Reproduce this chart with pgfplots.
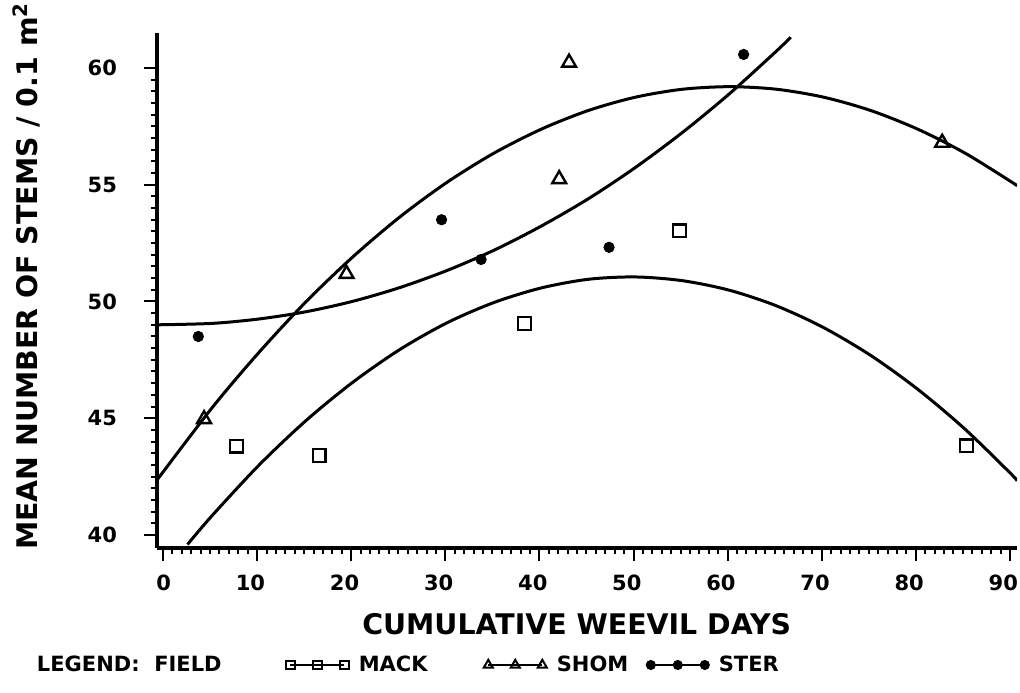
\documentclass[border=0pt]{standalone}
\usepackage{fontspec}
\setmainfont{DejaVu Sans}
\usepackage{pgfplots}
\pgfplotsset{compat=1.18}
\begin{document}
\begin{tikzpicture}
\begin{axis}[name=ax,
 scale only axis, width=430pt, height=257.5pt,
 xmin=-0.64, xmax=90.75, ymin=39.44, ymax=61.5,
 axis x line*=bottom, axis y line*=left,
 axis line style={line width=1.8pt},
 tick align=outside,
 xtick={0,10,...,90}, ytick={40,45,...,60},
 minor x tick num=9, minor y tick num=9,
 major tick length=6.5pt, minor tick length=3pt,
 every tick/.style={black, line width=1pt},
 /pgf/number format/assume math mode=true,
 ticklabel style={font=\bfseries\fontsize{10.5}{12}\selectfont},
 yticklabel style={xshift=-10pt},
 xticklabel style={anchor=north east, xshift=7.5pt, yshift=-3.5pt},
 xlabel={CUMULATIVE WEEVIL DAYS},
 xlabel style={at={(axis description cs:0.488,-0.1476)}, anchor=center, font=\bfseries\fontsize{14.2}{16}\selectfont},
 ylabel={MEAN NUMBER OF STEMS / 0.1 m\textsuperscript{2}},
 ylabel style={at={(axis description cs:-0.152,0.528)}, anchor=center, font=\bfseries\fontsize{14.2}{16}\selectfont},
 legend image code/.code={\draw[mark repeat=1,#1] plot coordinates {(0pt,0pt) (13.5pt,0pt) (27pt,0pt)};},
 legend style={draw=none, fill=none, at={(axis description cs:0,0)}, anchor=west,
   xshift=-65.2pt, yshift=-58.5pt,
   legend columns=4, font=\bfseries\fontsize{10.5}{12}\selectfont,
   /tikz/every even column/.append style={column sep=0pt}},
 legend cell align=left,
]
\addlegendimage{empty legend}
\addlegendentry{\makebox[122.5pt][l]{LEGEND:\ \ FIELD}}
\addlegendimage{black, line width=1pt, mark=square, mark size=2.2pt}
\addlegendentry{\makebox[63.5pt][l]{\hspace*{3pt}MACK}}
\addlegendimage{black, line width=1pt, mark=triangle, mark size=2.6pt}
\addlegendentry{\makebox[46pt][l]{\hspace*{3pt}SHOM}}
\addlegendimage{black, line width=1pt, mark=*, mark size=2pt}
\addlegendentry{\hspace*{3pt}STER}

% MACK data
\addplot[forget plot, only marks, mark=square, mark size=3.2pt, line width=1.2pt] coordinates {
 (7.8,43.8) (16.6,43.4) (38.4,49.05) (54.9,53.03) (85.4,43.82)};
% SHOM data
\addplot[forget plot, only marks, mark=triangle, mark size=4pt, line width=1.2pt] coordinates {
 (4.36,44.96) (19.5,51.18) (42.1,55.24) (43.15,60.23) (82.8,56.8)};
% STER data
\addplot[forget plot, only marks, mark=*, mark size=2.6pt] coordinates {
 (3.75,48.5) (29.6,53.5) (33.8,51.8) (47.4,52.32) (61.7,60.58)};

% fitted curves
\addplot[forget plot, smooth, line width=1.5pt] coordinates {
(-0.64,42.35) (5.2,45.44) (10.2,47.82) (15.2,49.99) (20.2,51.92) (25.2,53.63) (30.2,55.11) (35.2,56.36) (40.2,57.38) (45.2,58.18) (50.2,58.75) (55.2,59.09) (60.2,59.2) (65.2,59.09) (70.2,58.75) (75.2,58.18) (80.2,57.38) (85.2,56.36) (90.2,55.11) (90.75,54.95)};
\addplot[forget plot, smooth, line width=1.5pt] coordinates {
(2.6,39.59) (5.2,40.82) (10.2,42.99) (15.2,44.90) (20.2,46.55) (25.2,47.95) (30.2,49.09) (35.2,49.96) (40.2,50.58) (45.2,50.95) (50.2,51.05) (55.2,50.89) (60.2,50.48) (65.2,49.81) (70.2,48.88) (75.2,47.69) (80.2,46.24) (85.2,44.54) (90.2,42.58) (90.75,42.3)};
\addplot[forget plot, smooth, line width=1.5pt] coordinates {
(-0.64,49.0) (5.2,49.06) (10.2,49.25) (15.2,49.56) (20.2,50.01) (25.2,50.60) (30.2,51.33) (35.2,52.20) (40.2,53.23) (45.2,54.40) (50.2,55.74) (55.2,57.24) (60.2,58.90) (65.2,60.73) (66.7,61.32)};
\end{axis}
\pgfresetboundingbox
\path ([shift={(-78.5pt,-72.5pt)}]ax.south west) rectangle ([shift={(1.5pt,16.5pt)}]ax.north east);
\end{tikzpicture}
\end{document}
